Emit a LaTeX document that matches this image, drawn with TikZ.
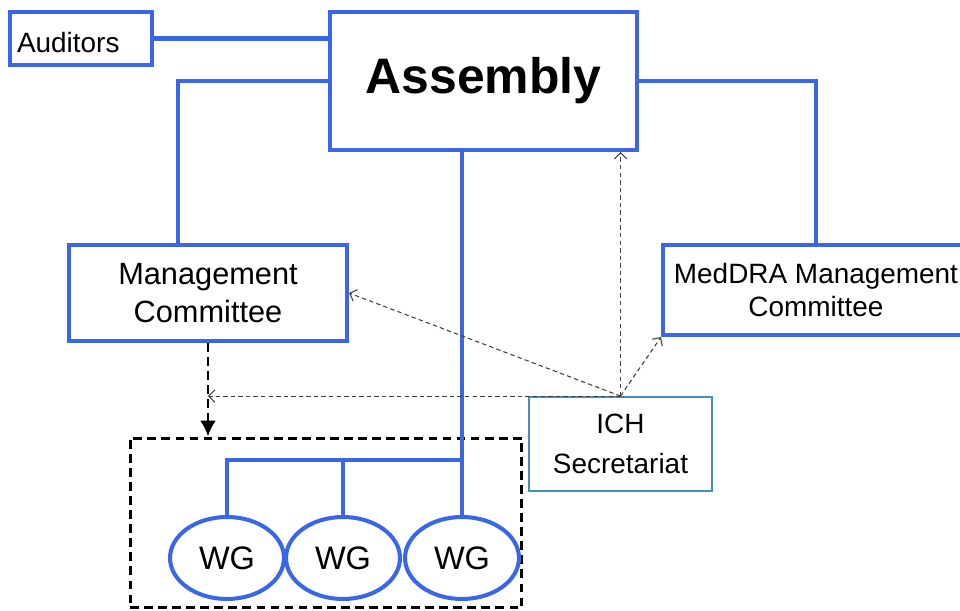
\documentclass[tikz,border=0pt]{standalone}
\usepackage{fontspec}
\setmainfont{Liberation Sans}
\usetikzlibrary{arrows.meta,calc}
\usetikzlibrary{positioning,shapes}
\definecolor{orgblue}{RGB}{58,102,232}
\definecolor{secblue}{RGB}{72,140,184}
\newcommand{\lbl}{\fontsize{15.9}{20}\selectfont}

\begin{document}
\begin{tikzpicture}[x=0.02cm,y=-0.02cm]
% box shapes and lines
\tikzstyle{unit}=[rectangle,draw=orgblue,line width=2.3pt,fill=white,align=center,inner sep=0pt,font=\lbl]
\tikzstyle{wg}=[ellipse,draw=orgblue,line width=2.3pt,fill=white,minimum width=2.28cm,minimum height=1.64cm,inner sep=0pt,font=\fontsize{18.5}{20}\selectfont]
\tikzstyle{link}=[draw=orgblue,line width=2.3pt]
\tikzstyle{info}=[-{Straight Barb[length=3.5pt,width=7pt]},draw=black!75,line width=0.6pt,dash pattern=on 2.5pt off 1.8pt]
\tikzstyle{group}=[draw,line width=1.7pt,dash pattern=on 5pt off 3pt]

\useasboundingbox (0,0) rectangle (960,611);

% nodes
\node[unit,minimum width=2.84cm,minimum height=1.06cm,text width=2.56cm,text height=0.55cm,text depth=0pt,align=left] (auditors) at (81,38.5) {Auditors};
\node[unit,minimum width=6.14cm,minimum height=2.76cm,font=\fontsize{28.4}{30}\selectfont\bfseries] (assembly) at (483.5,81) {Assembly};
\node[unit,minimum width=5.56cm,minimum height=1.92cm,font=\fontsize{17.5}{22}\selectfont] (mc) at (208,293) {Management\\Committee};
\node[unit,minimum width=6.12cm,minimum height=1.8cm,font=\fontsize{15.9}{18.8}\selectfont] (meddra) at (816,290) {MedDRA Management\\Committee};
\node[rectangle,draw=secblue,line width=1.1pt,minimum width=3.66cm,minimum height=1.88cm,align=center,font=\fontsize{15.9}{22.7}\selectfont] (ich) at (620.5,444) {ICH\\Secretariat};
\node[group,minimum width=7.84cm,minimum height=3.4cm] (wgbox) at (326,523) {};
\foreach \name/\x in {wga/227,wgb/343,wgc/462}
\node[wg] (\name) at (\x,558) {WG};

% hierarchy lines
\draw[link] (auditors.east) -- (auditors.east -| assembly.west);
\draw[link] (assembly.west) -| ([xshift=-0.6cm]mc.north);
\draw[link] (assembly.east) -| (meddra.north);
\draw[link] (wgc.north |- assembly.south) -- (wgc.north);
\coordinate (bus) at (wgc.north |- 0,460);
\draw[link] (wga.north) |- (bus);
\draw[link] (wgb.north) -- (wgb.north |- bus);

% reporting arrows
\draw[group,-{Latex[length=9pt,width=9pt]}] (mc.south) -- (mc.south |- wgbox.north);
\foreach \to in {assembly.south -| ich.north, mc.east, meddra.south west, mc.south |- ich.north}
\draw[info] (ich.north) -- (\to);
\end{tikzpicture}
\end{document}
